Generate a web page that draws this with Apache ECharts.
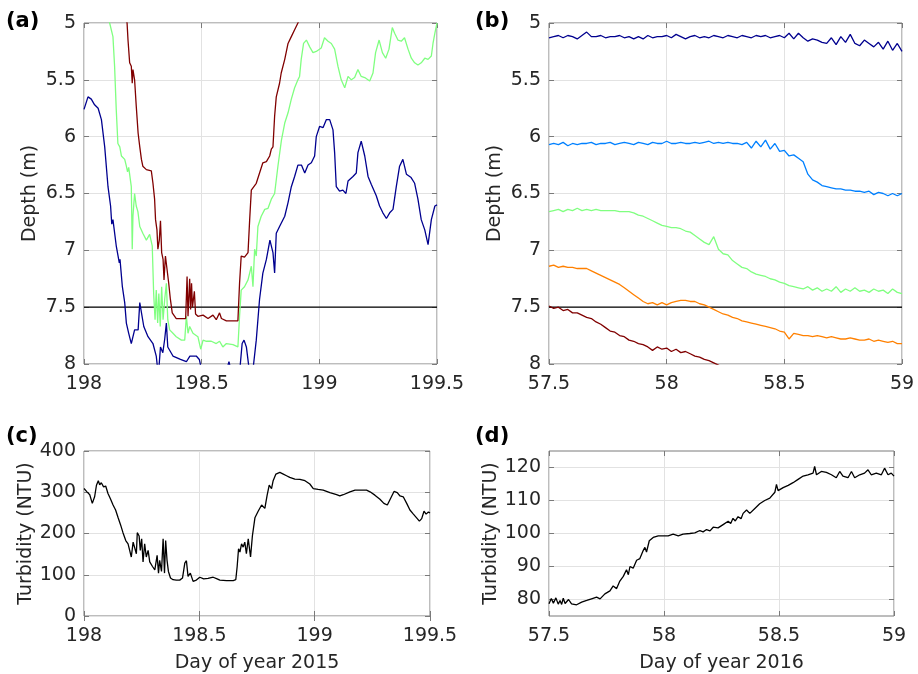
<!DOCTYPE html>
<html><head><meta charset="utf-8">
<script src="https://cdn.jsdelivr.net/npm/echarts@6/dist/echarts.min.js"></script>
<style>html,body{margin:0;padding:0;background:#fff}#chart{width:918px;height:674px}</style>
</head><body><div id="chart"></div>
<script>
// ---------- DATA ----------
const panelLabels = ['(a)', '(b)', '(c)', '(d)'];
const depthName = 'Depth (m)';
const turbName = 'Turbidity (NTU)';
const xName2015 = 'Day of year 2015';
const xName2016 = 'Day of year 2016';
const refDepth = 7.5;
const turbDTicks = [80, 90, 100, 110, 120];

// Panel (a): depth, day of year 2015
const aBlueDay = [198.000,198.017,198.031,198.045,198.060,198.074,198.088,198.102,198.113,198.118,198.123,198.137,198.150,198.153,198.163,198.173,198.180,198.190,198.201,198.215,198.230,198.237,198.244,198.254,198.272,198.293,198.307,198.316,198.325,198.335,198.343,198.350,198.356,198.378,198.410,198.435,198.450,198.477,198.490,198.505,198.560,198.600,198.616,198.630,198.660,198.672,198.680,198.690,198.705,198.718,198.732,198.746,198.760,198.775,198.790,198.803,198.810,198.817,198.831,198.853,198.867,198.881,198.895,198.909,198.924,198.938,198.952,198.966,198.980,198.987,199.001,199.016,199.030,199.044,199.058,199.065,199.072,199.086,199.100,199.113,199.122,199.143,199.157,199.164,199.178,199.193,199.207,199.221,199.242,199.256,199.270,199.285,199.299,199.313,199.327,199.341,199.355,199.370,199.390,199.405,199.419,199.433,199.448,199.462,199.476,199.491,199.500];
const aBlueDepth = [5.76,5.65,5.67,5.72,5.75,5.85,6.09,6.44,6.61,6.77,6.73,6.96,7.11,7.08,7.32,7.46,7.64,7.73,7.82,7.70,7.70,7.46,7.46,7.67,7.76,7.82,7.93,8.10,7.85,7.90,7.78,7.64,7.85,7.93,7.96,7.98,7.93,7.93,7.96,8.10,8.15,8.10,7.98,8.10,8.10,7.82,7.79,7.85,8.10,8.05,7.79,7.43,7.20,7.08,6.91,7.02,7.20,6.85,6.79,6.70,6.58,6.44,6.35,6.25,6.25,6.32,6.25,6.23,6.17,6.00,5.91,5.92,5.85,5.85,5.94,6.14,6.44,6.48,6.47,6.50,6.39,6.35,6.32,6.14,6.04,6.17,6.35,6.42,6.52,6.61,6.67,6.72,6.67,6.64,6.44,6.26,6.20,6.33,6.36,6.41,6.55,6.73,6.82,6.95,6.73,6.61,6.60];
const aGreenDay = [198.090,198.109,198.123,198.130,198.137,198.144,198.152,198.159,198.173,198.180,198.185,198.190,198.201,198.205,198.208,198.215,198.222,198.229,198.237,198.250,198.265,198.279,198.290,198.296,198.302,198.307,198.313,198.318,198.324,198.330,198.336,198.343,198.350,198.356,198.364,198.378,198.392,198.414,198.428,198.435,198.442,198.449,198.463,198.484,198.496,198.506,198.520,198.541,198.562,198.576,198.590,198.605,198.633,198.654,198.661,198.668,198.682,198.697,198.711,198.718,198.725,198.732,198.739,198.753,198.768,198.782,198.796,198.810,198.824,198.839,198.853,198.867,198.881,198.895,198.909,198.916,198.923,198.933,198.945,198.959,198.973,198.987,199.008,199.022,199.037,199.051,199.065,199.079,199.093,199.108,199.122,199.136,199.150,199.164,199.178,199.193,199.214,199.228,199.239,199.254,199.268,199.282,199.296,199.310,199.320,199.334,199.348,199.362,199.377,199.391,199.405,199.419,199.433,199.448,199.462,199.476,199.483,199.491,199.500];
const aGreenDepth = [4.80,5.00,5.12,5.38,5.76,6.06,6.09,6.17,6.20,6.26,6.31,6.27,6.44,6.99,6.70,6.50,6.61,6.66,6.79,6.85,6.91,6.86,6.96,7.38,7.61,7.35,7.64,7.38,7.67,7.32,7.61,7.43,7.29,7.61,7.70,7.73,7.76,7.79,7.79,7.58,7.73,7.67,7.73,7.76,7.87,7.79,7.80,7.80,7.82,7.80,7.85,7.82,7.83,7.85,7.58,7.35,7.32,7.26,7.14,7.32,6.99,7.05,6.79,6.70,6.64,6.63,6.55,6.50,6.26,6.03,5.88,5.79,5.67,5.57,5.50,5.47,5.32,5.18,5.15,5.21,5.26,5.25,5.22,5.13,5.16,5.18,5.23,5.38,5.50,5.57,5.47,5.50,5.48,5.41,5.47,5.48,5.51,5.44,5.26,5.15,5.26,5.31,5.23,5.04,5.09,5.15,5.16,5.13,5.23,5.31,5.35,5.37,5.35,5.31,5.32,5.29,5.18,5.09,5.00];
const aRedDay = [198.150,198.183,198.187,198.194,198.201,198.205,198.208,198.215,198.222,198.230,198.237,198.244,198.250,198.265,198.286,198.293,198.300,198.304,198.310,198.314,198.320,198.325,198.330,198.336,198.340,198.346,198.354,198.360,198.367,198.375,198.392,198.414,198.432,198.438,198.442,198.449,198.453,198.457,198.461,198.469,198.474,198.484,198.506,198.527,198.548,198.562,198.576,198.584,198.605,198.633,198.654,198.661,198.668,198.682,198.697,198.704,198.711,198.718,198.732,198.746,198.760,198.775,198.789,198.796,198.803,198.810,198.817,198.831,198.838,198.853,198.867,198.881,198.895,198.909,198.930];
const aRedDepth = [4.60,5.00,5.15,5.35,5.38,5.53,5.41,5.50,5.73,5.97,6.09,6.20,6.26,6.29,6.30,6.41,6.55,6.73,6.82,6.99,6.91,6.74,7.02,7.08,7.26,7.05,7.04,7.29,7.43,7.55,7.60,7.60,7.60,7.23,7.58,7.25,7.52,7.29,7.50,7.36,7.56,7.58,7.57,7.60,7.57,7.61,7.55,7.60,7.62,7.62,7.62,7.29,7.05,7.06,7.02,6.73,6.47,6.48,6.41,6.32,6.23,6.22,6.17,6.11,6.09,5.82,5.65,5.53,5.44,5.32,5.18,5.12,5.06,5.00,4.85];

// Panel (b): depth, day of year 2016
const bDay = [57.50,57.52,57.54,57.56,57.58,57.60,57.62,57.64,57.66,57.68,57.70,57.72,57.74,57.76,57.78,57.80,57.82,57.84,57.86,57.88,57.90,57.92,57.94,57.96,57.98,58.00,58.02,58.04,58.06,58.08,58.10,58.12,58.14,58.16,58.18,58.20,58.22,58.24,58.26,58.28,58.30,58.32,58.34,58.36,58.38,58.40,58.42,58.44,58.46,58.48,58.50,58.52,58.54,58.56,58.58,58.60,58.62,58.64,58.66,58.68,58.70,58.72,58.74,58.76,58.78,58.80,58.82,58.84,58.86,58.88,58.90,58.92,58.94,58.96,58.98,59.00];
const bNavy = [5.13,5.12,5.11,5.13,5.11,5.12,5.14,5.11,5.08,5.12,5.12,5.11,5.13,5.12,5.12,5.11,5.13,5.12,5.14,5.12,5.14,5.11,5.13,5.12,5.12,5.11,5.13,5.10,5.12,5.14,5.12,5.11,5.13,5.12,5.13,5.11,5.12,5.13,5.11,5.12,5.13,5.11,5.12,5.13,5.11,5.12,5.11,5.13,5.12,5.11,5.13,5.09,5.14,5.09,5.13,5.16,5.14,5.15,5.17,5.18,5.13,5.19,5.12,5.17,5.10,5.18,5.20,5.15,5.18,5.21,5.17,5.23,5.16,5.24,5.18,5.25];
const bBlue = [6.07,6.06,6.07,6.05,6.08,6.06,6.07,6.06,6.06,6.05,6.07,6.06,6.06,6.05,6.07,6.06,6.05,6.06,6.07,6.05,6.06,6.07,6.05,6.06,6.06,6.04,6.06,6.06,6.05,6.06,6.06,6.05,6.06,6.05,6.04,6.06,6.05,6.06,6.05,6.06,6.06,6.07,6.05,6.10,6.04,6.09,6.03,6.11,6.06,6.13,6.12,6.17,6.16,6.19,6.22,6.33,6.38,6.40,6.43,6.44,6.45,6.46,6.46,6.47,6.47,6.48,6.48,6.49,6.48,6.51,6.49,6.50,6.52,6.50,6.52,6.50];
const bGreen = [6.66,6.65,6.64,6.66,6.64,6.65,6.63,6.65,6.64,6.65,6.64,6.65,6.65,6.65,6.65,6.66,6.66,6.66,6.67,6.69,6.70,6.72,6.74,6.76,6.78,6.79,6.80,6.80,6.81,6.83,6.84,6.87,6.90,6.93,6.95,6.88,6.99,7.03,7.04,7.09,7.12,7.15,7.16,7.19,7.21,7.22,7.23,7.25,7.26,7.28,7.29,7.31,7.32,7.33,7.34,7.32,7.35,7.33,7.36,7.34,7.36,7.32,7.37,7.34,7.36,7.33,7.36,7.35,7.37,7.34,7.36,7.35,7.38,7.34,7.37,7.38];
const bOrange = [7.14,7.13,7.15,7.14,7.15,7.15,7.16,7.16,7.16,7.18,7.20,7.22,7.24,7.26,7.28,7.30,7.33,7.36,7.39,7.42,7.45,7.47,7.46,7.48,7.46,7.48,7.46,7.45,7.44,7.44,7.45,7.45,7.47,7.48,7.50,7.52,7.54,7.56,7.57,7.59,7.60,7.62,7.63,7.64,7.65,7.66,7.67,7.68,7.69,7.71,7.72,7.78,7.73,7.74,7.75,7.75,7.76,7.75,7.76,7.77,7.76,7.77,7.78,7.78,7.77,7.78,7.79,7.79,7.78,7.80,7.79,7.80,7.81,7.80,7.82,7.82];
const bRed = [7.49,7.51,7.50,7.53,7.52,7.55,7.55,7.57,7.59,7.60,7.63,7.65,7.68,7.71,7.72,7.75,7.76,7.79,7.80,7.82,7.83,7.85,7.88,7.85,7.87,7.86,7.89,7.87,7.90,7.89,7.91,7.93,7.94,7.96,7.97,7.99,8.01,8.03];

// Panel (c): turbidity 2015
const cDay = [198.000,198.013,198.025,198.036,198.046,198.054,198.062,198.068,198.075,198.085,198.094,198.104,198.114,198.126,198.137,198.148,198.158,198.169,198.181,198.191,198.198,198.205,198.213,198.220,198.227,198.231,198.239,198.244,198.250,198.256,198.263,198.270,198.278,198.285,198.297,198.307,198.317,198.323,198.328,198.336,198.343,198.349,198.354,198.360,198.366,198.375,198.386,198.400,198.415,198.427,198.437,198.444,198.451,198.461,198.473,198.487,198.502,198.519,198.538,198.560,198.577,198.589,198.618,198.647,198.658,198.664,198.670,198.676,198.683,198.690,198.697,198.704,198.712,198.722,198.730,198.741,198.755,198.770,198.784,198.794,198.803,198.813,198.820,198.832,198.849,198.864,198.878,198.892,198.914,198.936,198.958,198.979,198.994,199.015,199.037,199.066,199.095,199.109,199.124,199.153,199.175,199.196,199.225,199.240,199.261,199.283,199.300,199.315,199.329,199.344,199.358,199.370,199.384,199.399,199.413,199.428,199.442,199.454,199.464,199.474,199.483,199.493,199.500];
const cTurb = [309,301,294,273,289,317,328,318,323,313,315,297,285,269,257,238,222,202,183,175,159,143,179,175,151,202,194,159,187,131,175,143,159,131,120,112,147,104,135,108,187,104,183,135,108,92,88,87,87,92,128,134,96,104,84,87,94,90,91,94,90,87,86,86,88,120,163,155,175,167,179,151,187,143,194,238,254,269,261,293,317,309,328,344,348,344,340,336,332,331,328,320,309,307,305,299,294,291,294,301,305,305,305,301,293,283,273,269,285,302,299,291,289,273,257,247,238,230,236,254,247,252,250];

// Panel (d): turbidity 2016
const dDay = [57.500,57.510,57.519,57.530,57.540,57.548,57.555,57.562,57.570,57.577,57.585,57.598,57.620,57.642,57.664,57.685,57.707,57.722,57.743,57.765,57.779,57.794,57.808,57.823,57.837,57.845,57.852,57.866,57.881,57.895,57.910,57.917,57.924,57.936,57.953,57.975,57.997,58.018,58.040,58.062,58.083,58.112,58.134,58.156,58.170,58.185,58.200,58.214,58.235,58.257,58.279,58.290,58.300,58.310,58.322,58.335,58.344,58.359,58.373,58.395,58.416,58.438,58.460,58.482,58.489,58.496,58.518,58.540,58.561,58.583,58.605,58.626,58.648,58.655,58.663,58.684,58.706,58.728,58.749,58.764,58.778,58.800,58.815,58.829,58.851,58.872,58.887,58.901,58.923,58.945,58.959,58.974,58.988,59.000];
const dTurb = [78.7,80.3,78.9,80.5,78.6,79.7,78.5,80.4,78.8,79.2,80.0,78.7,78.4,79.2,79.7,80.2,80.7,80.2,81.7,82.6,84.1,83.3,85.6,87.0,89.0,87.5,90.0,89.5,91.9,92.4,94.9,95.8,94.4,97.8,98.8,99.3,99.3,99.3,99.8,99.3,99.8,100.0,100.2,100.9,100.5,101.2,100.8,101.9,101.7,102.7,103.7,103.0,104.6,103.8,105.1,104.5,106.1,107.1,106.1,107.6,109.0,110.0,110.7,112.5,114.9,113.0,113.9,114.6,115.4,116.4,117.4,117.8,118.3,120.3,117.8,118.8,118.5,117.8,116.9,118.8,117.4,116.9,118.8,116.9,117.8,118.3,119.3,117.8,118.3,117.8,119.8,117.8,118.3,117.4];

// ---------- CHART ----------
const FONT = 'DejaVu Sans';
const TXT = '#262626';
const BOX = '#7a7a7a';
const GRIDC = '#e2e2e2';
const JET = {navy:'#00008f', blue:'#0080ff', green:'#80ff80', orange:'#ff8000', red:'#800000'};

function pairs(xs, ys) { const n = Math.min(xs.length, ys.length); const out = []; for (let i = 0; i < n; i++) out.push([xs[i], ys[i]]); return out; }

const grids = [
  {left: 84, top: 23, width: 353, height: 341},
  {left: 549, top: 23, width: 353, height: 341},
  {left: 84, top: 451, width: 346, height: 170},
  {left: 549, top: 451, width: 345, height: 170}
].map(g => Object.assign(g, {show: true, borderColor: BOX, borderWidth: 1, backgroundColor: 'transparent'}));

const tickStyle = {inside: true, length: 5, lineStyle: {color: BOX, width: 1}};
const labelStyle = {color: TXT, fontFamily: FONT, fontSize: 19};
const nameStyle = {color: TXT, fontFamily: FONT, fontSize: 19};

function xPair(gi, min, max, interval, name) {
  const main = {type: 'value', gridIndex: gi, min, max, interval, position: 'bottom',
    axisLine: {show: false}, axisTick: tickStyle,
    axisLabel: Object.assign({margin: 11}, labelStyle),
    splitLine: {show: true, lineStyle: {color: GRIDC, width: 1}}};
  if (name) Object.assign(main, {name, nameLocation: 'middle', nameGap: 38, nameTextStyle: nameStyle});
  const mirror = {type: 'value', gridIndex: gi, min, max, interval, position: 'top',
    axisLine: {show: false}, axisTick: tickStyle, axisLabel: {show: false}, splitLine: {show: false}};
  return [main, mirror];
}
function yPair(gi, opts, name) {
  const main = Object.assign({type: 'value', gridIndex: gi, position: 'left',
    axisLine: {show: false}, axisTick: Object.assign({}, tickStyle),
    axisLabel: Object.assign({margin: 8}, labelStyle),
    splitLine: {show: true, lineStyle: {color: GRIDC, width: 1}},
    name, nameLocation: 'middle', nameGap: 44, nameTextStyle: nameStyle}, opts);
  const mirror = Object.assign({type: 'value', gridIndex: gi, position: 'right',
    axisLine: {show: false}, axisTick: Object.assign({}, tickStyle), axisLabel: {show: false}, splitLine: {show: false}}, opts);
  if (opts.ticks) {
    main.axisTick.customValues = opts.ticks; main.axisLabel.customValues = opts.ticks;
    mirror.axisTick.customValues = opts.ticks;
  }
  delete main.ticks; delete mirror.ticks;
  return [main, mirror];
}

const xAxis = [].concat(
  xPair(0, 198, 199.5, 0.5, null),
  xPair(1, 57.5, 59, 0.5, null),
  xPair(2, 198, 199.5, 0.5, xName2015),
  xPair(3, 57.5, 59, 0.5, xName2016)
);
const yAxis = [].concat(
  yPair(0, {min: 5, max: 8, interval: 0.5, inverse: true}, depthName),
  yPair(1, {min: 5, max: 8, interval: 0.5, inverse: true}, depthName),
  yPair(2, {min: 0, max: 400, interval: 100}, turbName),
  yPair(3, {min: 75, max: 125, ticks: turbDTicks}, turbName)
);

function line(ai, data, color, z) {
  return {type: 'line', xAxisIndex: ai * 2, yAxisIndex: ai * 2, data, showSymbol: false, symbol: 'none',
    clip: true, z: z || 3, lineStyle: {color, width: 1.3}, itemStyle: {color}, animation: false};
}

const series = [
  line(0, [[198, refDepth], [199.5, refDepth]], '#000000', 2),
  line(0, pairs(aBlueDay, aBlueDepth), JET.navy),
  line(0, pairs(aGreenDay, aGreenDepth), JET.green),
  line(0, pairs(aRedDay, aRedDepth), JET.red),
  line(1, [[57.5, refDepth], [59, refDepth]], '#000000', 2),
  line(1, pairs(bDay, bNavy), JET.navy),
  line(1, pairs(bDay, bBlue), JET.blue),
  line(1, pairs(bDay, bGreen), JET.green),
  line(1, pairs(bDay, bOrange), JET.orange),
  line(1, pairs(bDay, bRed), JET.red),
  line(2, pairs(cDay, cTurb), '#000000'),
  line(3, pairs(dDay, dTurb), '#000000')
];

const labelPos = [[6, 11], [475, 11], [6, 426], [475, 426]];
const title = panelLabels.map((t, i) => ({text: t, left: labelPos[i][0], top: labelPos[i][1], padding: 0,
  textStyle: {fontFamily: FONT, fontSize: 21, fontWeight: 'bold', color: '#000'}}));

const chart = echarts.init(document.getElementById('chart'), null, {renderer: 'canvas'});
chart.setOption({animation: false, backgroundColor: '#ffffff', title, grid: grids, xAxis, yAxis, series});
</script></body></html>
